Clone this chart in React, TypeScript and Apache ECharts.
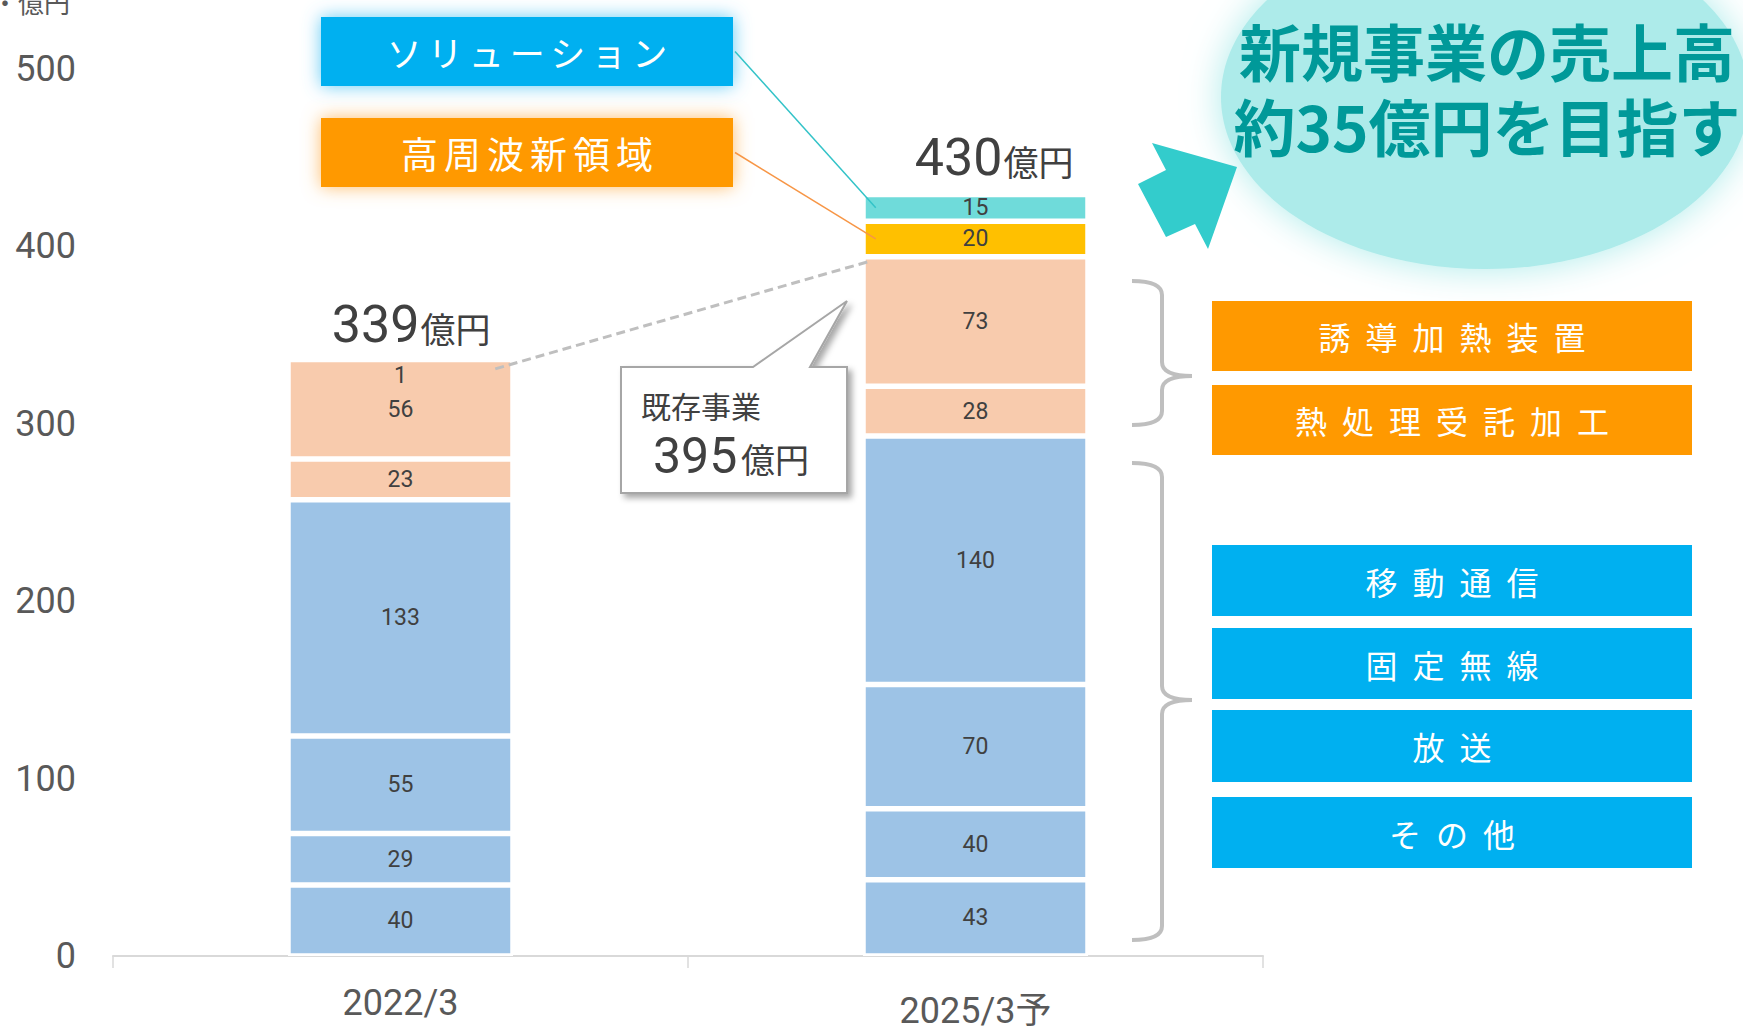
import React, { useEffect, useRef } from "react";
import * as echarts from "echarts";

// ---- data ----
const categories = ["2022/3", "2025/3予"];
const otherValues = [40, 43]; // その他
const broadcastValues = [29, 40]; // 放送
const fixedWirelessValues = [55, 70]; // 固定無線
const mobileValues = [133, 140]; // 移動通信
const heatTreatValues = [23, 28]; // 熱処理受託加工
const inductionValues = [56, 73]; // 誘導加熱装置
const hfNewValues = [1, 20]; // 高周波新領域
const solutionValues: (number | null)[] = [null, 15]; // ソリューション
const totals = [339, 430];
const existingTotal = 395;
const yMin = 0;
const yMax = 500;
const yInterval = 100;

const BLUE = "#9DC3E6";
const PEACH = "#F8CBAD";
const GOLD = "#FFC000";
const AQUA = "#6FDBDA";
const FONT = "Roboto, 'Noto Sans CJK JP', sans-serif";
const CJK = "'Noto Sans CJK JP', sans-serif";
const BAR_W = 225;
const BORDER = 2.75;

const stackDefs = [
  { name: "その他", data: otherValues, color: BLUE },
  { name: "放送", data: broadcastValues, color: BLUE },
  { name: "固定無線", data: fixedWirelessValues, color: BLUE },
  { name: "移動通信", data: mobileValues, color: BLUE },
  { name: "熱処理受託加工", data: heatTreatValues, color: PEACH },
  { name: "誘導加熱装置", data: inductionValues, color: PEACH },
  { name: "高周波新領域", data: hfNewValues, color: GOLD },
  { name: "ソリューション", data: solutionValues, color: AQUA },
];

const css = `text[fill="#fffffe"]{letter-spacing:15px}text[fill="#fffffd"]{letter-spacing:6px}`;

function sumBelow(catIdx: number, seriesIdx: number) {
  let s = 0;
  for (let k = 0; k < seriesIdx; k++) s += (stackDefs[k].data[catIdx] as number) || 0;
  return s;
}

function brace(x0: number, xv: number, xt: number, yTop: number, yMid: number, yBot: number, r: number) {
  const st = { stroke: "#BFBFBF", lineWidth: 4, fill: null as any };
  return [
    { type: "bezierCurve", shape: { x1: x0, y1: yTop, cpx1: xv, cpy1: yTop, x2: xv, y2: yTop + r }, style: st },
    { type: "line", shape: { x1: xv, y1: yTop + r, x2: xv, y2: yMid - r }, style: st },
    { type: "bezierCurve", shape: { x1: xv, y1: yMid - r, cpx1: xv, cpy1: yMid, x2: xt, y2: yMid }, style: st },
    { type: "bezierCurve", shape: { x1: xt, y1: yMid, cpx1: xv, cpy1: yMid, x2: xv, y2: yMid + r }, style: st },
    { type: "line", shape: { x1: xv, y1: yMid + r, x2: xv, y2: yBot - r }, style: st },
    { type: "bezierCurve", shape: { x1: xv, y1: yBot - r, cpx1: xv, cpy1: yBot, x2: x0, y2: yBot }, style: st },
  ];
}

function labelBox(text: string, x: number, y: number, w: number, h: number, color: string) {
  return [
    { type: "rect", shape: { x, y, width: w, height: h }, style: { fill: color }, z: 5 },
    {
      type: "text",
      x: x + w / 2 + 7.5,
      y: y + h / 2,
      style: { text, fontSize: 32, fontFamily: CJK, fill: "#fffffe", textAlign: "center", textVerticalAlign: "middle" },
      z: 6,
    },
  ];
}

export default function App() {
  const ref = useRef<HTMLDivElement>(null);
  useEffect(() => {
    const chart = echarts.init(ref.current!, null, { renderer: "svg" });
    const option: any = {
      animation: false,
      grid: { left: 113, right: 480, top: 68.5, bottom: 72, containLabel: false, outerBoundsMode: "none" },
      xAxis: {
        type: "category",
        data: categories.map((c, i) => (i === 1 ? { value: c, textStyle: { padding: [8, 0, 0, 0] } } : c)),
        axisLine: { lineStyle: { color: "#D9D9D9", width: 2 } },
        axisTick: { show: true, length: 12, lineStyle: { color: "#D9D9D9", width: 1.5 } },
        axisLabel: { fontSize: 36, color: "#595959", fontFamily: FONT, margin: 29 },
      },
      yAxis: {
        type: "value",
        min: yMin,
        max: yMax,
        interval: yInterval,
        axisLine: { show: false },
        axisTick: { show: false },
        splitLine: { show: false },
        axisLabel: { fontSize: 36, color: "#595959", fontFamily: FONT, margin: 37, padding: [0, 0, 10, 0] },
      },
      series: stackDefs.map((d) => ({
        type: "bar",
        name: d.name,
        stack: "total",
        barWidth: BAR_W,
        itemStyle: { color: d.color, borderColor: "#ffffff", borderWidth: BORDER },
        label: { show: true, position: "inside", fontSize: 23, color: "#404040", fontFamily: FONT },
        data: d.data.map((v, i) =>
          d.name === "高周波新領域" && i === 0 ? { value: v, label: { offset: [0, 17] } } : v
        ),
      })),
    };
    chart.setOption(option);

    const px = (i: number, v: number) =>
      chart.convertToPixel({ xAxisIndex: 0, yAxisIndex: 0 }, [i, v]) as unknown as number[];
    const half = BAR_W / 2 - BORDER;

    const hfIdx = stackDefs.findIndex((d) => d.name === "高周波新領域");
    const solIdx = stackDefs.findIndex((d) => d.name === "ソリューション");
    const existTop2 = sumBelow(1, hfIdx);
    const top1 = sumBelow(0, stackDefs.length);
    const top2 = sumBelow(1, stackDefs.length);

    const solMid = px(1, sumBelow(1, solIdx) + (solutionValues[1] as number) / 2);
    const hfMid = px(1, existTop2 + hfNewValues[1] / 2);
    const c2 = px(1, existTop2);
    const c1 = px(0, top1);

    const elements: any[] = [];
    // bubble
    elements.push({
      type: "ellipse",
      shape: { cx: 1485, cy: 97, rx: 264, ry: 172 },
      style: { fill: "#ADEBEA", shadowBlur: 36, shadowColor: "#ADEBEA" },
      z: 1,
    });
    elements.push({
      type: "text", x: 1487, y: 50, z: 2,
      style: { text: "新規事業の売上高", fontSize: 62, fontWeight: "bold", fontFamily: CJK, fill: "#009999", textAlign: "center", textVerticalAlign: "middle" },
    });
    elements.push({
      type: "text", x: 1487, y: 125, z: 2,
      style: { text: "約35億円を目指す", fontSize: 62, fontWeight: "bold", fontFamily: CJK, fill: "#009999", textAlign: "center", textVerticalAlign: "middle" },
    });
    // arrow
    elements.push({
      type: "polygon", z: 3,
      shape: { points: [[1152, 143], [1237, 167], [1208, 249], [1195, 224], [1166, 237], [1138, 184], [1166, 170]] },
      style: { fill: "#33CCCC" },
    });
    // top boxes
    elements.push({
      type: "rect", z: 5, shape: { x: 321, y: 17, width: 412, height: 69 },
      style: { fill: "#00B0F0", shadowBlur: 18, shadowColor: "rgba(90,200,245,0.95)" },
    });
    elements.push({
      type: "text", x: 530, y: 51.5, z: 6,
      style: { text: "ソリューション", fontSize: 35, fontFamily: CJK, fill: "#fffffd", textAlign: "center", textVerticalAlign: "middle" },
    });
    elements.push({
      type: "rect", z: 5, shape: { x: 321, y: 118, width: 412, height: 69 },
      style: { fill: "#FF9900", shadowBlur: 18, shadowColor: "rgba(255,185,100,0.95)" },
    });
    elements.push({
      type: "text", x: 530, y: 152.5, z: 6,
      style: { text: "高周波新領域", fontSize: 37, fontFamily: CJK, fill: "#fffffd", textAlign: "center", textVerticalAlign: "middle" },
    });
    // connectors
    elements.push({
      type: "line", z: 10,
      shape: { x1: 735, y1: 51.5, x2: solMid[0] - half + 10, y2: solMid[1] },
      style: { stroke: "#33C3C8", lineWidth: 1.5 },
    });
    elements.push({
      type: "line", z: 10,
      shape: { x1: 735, y1: 152.5, x2: hfMid[0] - half + 10, y2: hfMid[1] },
      style: { stroke: "#F79646", lineWidth: 1.5 },
    });
    elements.push({
      type: "line", z: 10,
      shape: { x1: c1[0] + half - 15, y1: c1[1] + 11, x2: c2[0] - half + 6, y2: c2[1] + 4 },
      style: { stroke: "#BFBFBF", lineWidth: 3, lineDash: [9, 5] },
    });
    // totals
    const totalDx = [19, 27];
    const totalDy = [-33.5, -37];
    [top1, top2].forEach((t, i) => {
      const p = px(i, t);
      elements.push({
        type: "text", x: p[0] + totalDx[i], y: p[1] + totalDy[i], z: 10,
        style: { text: String(totals[i]), fontSize: 52, fontFamily: FONT, fill: "#404040", textAlign: "right", textVerticalAlign: "middle" },
      });
      elements.push({
        type: "text", x: p[0] + totalDx[i] + 1, y: p[1] + totalDy[i] + 3, z: 10,
        style: { text: "億円", fontSize: 35, fontFamily: CJK, fill: "#404040", textAlign: "left", textVerticalAlign: "middle" },
      });
    });
    // callout
    elements.push({
      type: "polygon", z: 8,
      shape: { points: [[621, 367], [753, 367], [847, 301], [810, 367], [847, 367], [847, 493], [621, 493]] },
      style: { fill: "#ffffff", stroke: "#A6A6A6", lineWidth: 2, shadowBlur: 6, shadowOffsetX: 4, shadowOffsetY: 4, shadowColor: "rgba(0,0,0,0.35)" },
    });
    elements.push({
      type: "text", x: 641, y: 405, z: 9,
      style: { text: "既存事業", fontSize: 30, fontFamily: CJK, fill: "#404040", textAlign: "left", textVerticalAlign: "middle" },
    });
    elements.push({
      type: "text", x: 653, y: 456, z: 9,
      style: { text: String(existingTotal), fontSize: 50, fontFamily: FONT, fill: "#404040", textAlign: "left", textVerticalAlign: "middle" },
    });
    elements.push({
      type: "text", x: 741, y: 458, z: 9,
      style: { text: "億円", fontSize: 34, fontFamily: CJK, fill: "#404040", textAlign: "left", textVerticalAlign: "middle" },
    });
    // braces
    brace(1132, 1162, 1192, 281, 376, 425, 14).forEach((e) => elements.push({ ...e, z: 4 }));
    brace(1132, 1162, 1192, 463, 700, 940, 14).forEach((e) => elements.push({ ...e, z: 4 }));
    // right labels
    const orange = "#FF9900";
    const cyan = "#00B0F0";
    elements.push(...labelBox("誘導加熱装置", 1212, 301, 480, 70, orange));
    elements.push(...labelBox("熱処理受託加工", 1212, 385, 480, 70, orange));
    elements.push(...labelBox("移動通信", 1212, 545, 480, 71, cyan));
    elements.push(...labelBox("固定無線", 1212, 628, 480, 71, cyan));
    elements.push(...labelBox("放送", 1212, 710, 480, 72, cyan));
    elements.push(...labelBox("その他", 1212, 797, 480, 71, cyan));
    // unit
    elements.push({
      type: "text", x: -8, y: 1, z: 10,
      style: { text: "・億円", fontSize: 26, fontFamily: CJK, fill: "#595959", textAlign: "left", textVerticalAlign: "middle" },
    });

    chart.setOption({ graphic: { elements } });
    return () => chart.dispose();
  }, []);
  return (
    <>
      <style>{css}</style>
      <div ref={ref} style={{ position: "fixed", left: 0, top: 0, width: 1743, height: 1028, background: "#fff" }} />
    </>
  );
}
